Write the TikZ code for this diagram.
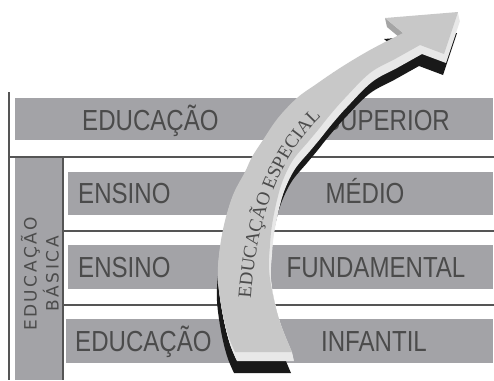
\documentclass[tikz,border=0pt]{standalone}
\usepackage{fontspec}
\usetikzlibrary{decorations.text}
\definecolor{bargray}{RGB}{163,163,167}
\definecolor{linegray}{RGB}{85,85,85}
\definecolor{textgray}{RGB}{75,75,75}
\definecolor{arrowface}{RGB}{200,200,200}
\definecolor{arrowside}{RGB}{232,232,232}
\definecolor{arrowbevel}{RGB}{165,165,165}
\newfontfamily\barfont[FakeStretch=0.83]{Liberation Sans}
\newfontfamily\sidefont[LetterSpace=15]{DejaVu Sans}
\newfontfamily\arcfont{Liberation Serif}

% outline of the curved arrow
\newcommand{\arrowshape}{(458,12) -- (385,18) -- (403,33)
  -- plot[smooth, tension=0.6] coordinates {(403,33) (370,50) (340,68) (315,85) (297,98) (278,118) (263,140) (252,157) (245,172) (233,195) (224,225) (219,255) (218,280) (222,310) (228,335) (235,352)}
  -- (292,352)
  -- plot[smooth, tension=0.6] coordinates {(292,352) (281,325) (274,300) (269,270) (270,245) (272,225) (277,200) (283,180) (293,160) (308,142) (318,130) (330,115) (345,98) (370,73) (395,59) (420,45)}
  -- (444,54) -- cycle}

\begin{document}
\begin{tikzpicture}[x=1pt, y=-1pt,
  bar/.style={fill=bargray},
  rule/.style={draw=linegray, line width=1.8pt},
  level/.style={text=textgray, font=\barfont\fontsize{29}{31}\selectfont, inner sep=0pt},
  sidetext/.style={text=textgray, font=\sidefont\fontsize{17}{22}\selectfont, inner sep=0pt, align=center}]
  \useasboundingbox (0,0) rectangle (494,380);

  %Bars
  \fill[bar] (15,98) rectangle (493,140);
  \fill[bar] (15,158) rectangle (62,380);
  \fill[bar] (68,172) rectangle (493,215);
  \fill[bar] (68,245) rectangle (493,289);
  \fill[bar] (66,319) rectangle (493,363);

  %Frame lines
  \draw[rule] (9,92) -- (9,380);
  \draw[rule] (9,157) -- (494,157);
  \draw[rule] (63,157) -- (63,380);
  \draw[rule] (63,231) -- (494,231);
  \draw[rule] (63,305) -- (494,305);

  %Levels
  \node[level, anchor=base west] (sup1) at (82,130) {EDUCAÇÃO};
  \node[level, anchor=base] (sup2) at (387,130) {SUPERIOR};
  \node[level, anchor=base west] (med1) at (78,203) {ENSINO};
  \node[level, anchor=base] (med2) at (365,203) {MÉDIO};
  \node[level, anchor=base west] (fund1) at (78,277) {ENSINO};
  \node[level, anchor=base] (fund2) at (376,277) {FUNDAMENTAL};
  \node[level, anchor=base west] (inf1) at (75,351) {EDUCAÇÃO};
  \node[level, anchor=base] (inf2) at (374,351) {INFANTIL};
  \node[sidetext, rotate=90] (basica) at (40,274) {EDUCAÇÃO\\BÁSICA};

  %Arrow: shadow, side, face
  \fill[black!90, shift={(-1,21)}] \arrowshape;
  \foreach \k in {1,...,9}
    \fill[arrowside, shift={(0.22*\k,\k)}] \arrowshape;
  \fill[arrowbevel] (385,18) -- (387,27) -- (405,42) -- (403,33) -- cycle;
  \fill[arrowface] \arrowshape;
  \path[decorate, decoration={text along path, text color=textgray,
    text={|\arcfont\fontsize{19}{19}\selectfont|EDUCAÇÃO ESPECIAL}}]
    (251,298) .. controls (256,220) and (280,140) .. (346,97);
\end{tikzpicture}
\end{document}
